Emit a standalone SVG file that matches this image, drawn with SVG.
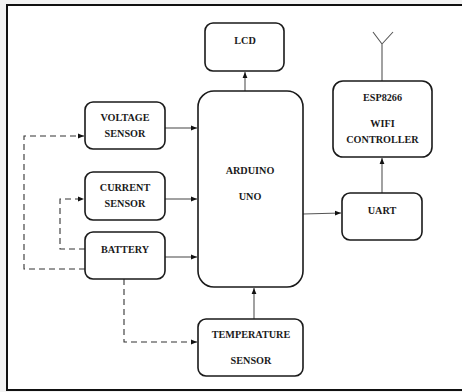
<svg xmlns="http://www.w3.org/2000/svg" width="462" height="392" viewBox="0 0 462 392">
<defs>
<marker id="ah" viewBox="0 0 10 10" refX="10" refY="5" markerWidth="6" markerHeight="6" orient="auto-start-reverse" markerUnits="userSpaceOnUse">
<path d="M0,1 L10,5 L0,9 z" fill="#111"/>
</marker>
<style>
.box{fill:#fff;stroke:#1a1a1a;stroke-width:1.6}
.t{font-family:"Liberation Serif","Times New Roman",serif;font-weight:bold;font-size:10.2px;fill:#1a1a1a;text-anchor:middle}
.c{fill:none;stroke:#555;stroke-width:1.1}
.d{fill:none;stroke:#333;stroke-width:1.1;stroke-dasharray:6 4}
</style>
</defs>
<rect x="0" y="0" width="462" height="392" fill="#f3f3f3"/>
<rect x="7" y="5" width="470" height="385" fill="#fff" stroke="#111" stroke-width="2"/>
<g id="connectors">
<line class="c" x1="245" y1="91" x2="245" y2="72" marker-end="url(#ah)"/>
<line class="c" x1="165" y1="128" x2="197" y2="128" marker-end="url(#ah)"/>
<line class="c" x1="165" y1="199" x2="197" y2="199" marker-end="url(#ah)"/>
<line class="c" x1="165" y1="257" x2="197" y2="257" marker-end="url(#ah)"/>
<line class="c" x1="254" y1="319" x2="254" y2="288" marker-end="url(#ah)"/>
<line class="c" x1="303" y1="214" x2="341" y2="213" marker-end="url(#ah)"/>
<line class="c" x1="382" y1="193" x2="382" y2="158" marker-end="url(#ah)"/>
<path class="c" d="M382,81 V44 M382,44 L373,32 M382,44 L393,32"/>
<path class="d" d="M85,269 H24 V136 H84" marker-end="url(#ah)"/>
<path class="d" d="M85,249 H60 V199 H84" marker-end="url(#ah)"/>
<path class="d" d="M124,279 V342 H197" marker-end="url(#ah)"/>
</g>
<g id="lcd"><rect class="box" x="205" y="23" width="79" height="48" rx="8"/><text class="t" x="245" y="44">LCD</text></g>
<g id="arduino"><rect class="box" x="198" y="91" width="105" height="196" rx="16"/><text class="t" x="250" y="174">ARDUINO</text><text class="t" x="250" y="200">UNO</text></g>
<g id="voltage"><rect class="box" x="85" y="102" width="80" height="47" rx="8"/><text class="t" x="125" y="121">VOLTAGE</text><text class="t" x="125" y="137">SENSOR</text></g>
<g id="current"><rect class="box" x="85" y="172" width="80" height="48" rx="8"/><text class="t" x="125" y="191">CURRENT</text><text class="t" x="125" y="207">SENSOR</text></g>
<g id="battery"><rect class="box" x="85" y="232" width="80" height="47" rx="8"/><text class="t" x="125" y="253">BATTERY</text></g>
<g id="temperature"><rect class="box" x="198" y="319" width="105" height="57" rx="8"/><text class="t" x="251" y="338">TEMPERATURE</text><text class="t" x="251" y="364">SENSOR</text></g>
<g id="uart"><rect class="box" x="342" y="193" width="80" height="47" rx="8"/><text class="t" x="382" y="214">UART</text></g>
<g id="esp"><rect class="box" x="333" y="81" width="99" height="76" rx="10"/><text class="t" x="382.5" y="101">ESP8266</text><text class="t" x="382.5" y="127">WIFI</text><text class="t" x="382.5" y="143">CONTROLLER</text></g>
</svg>
